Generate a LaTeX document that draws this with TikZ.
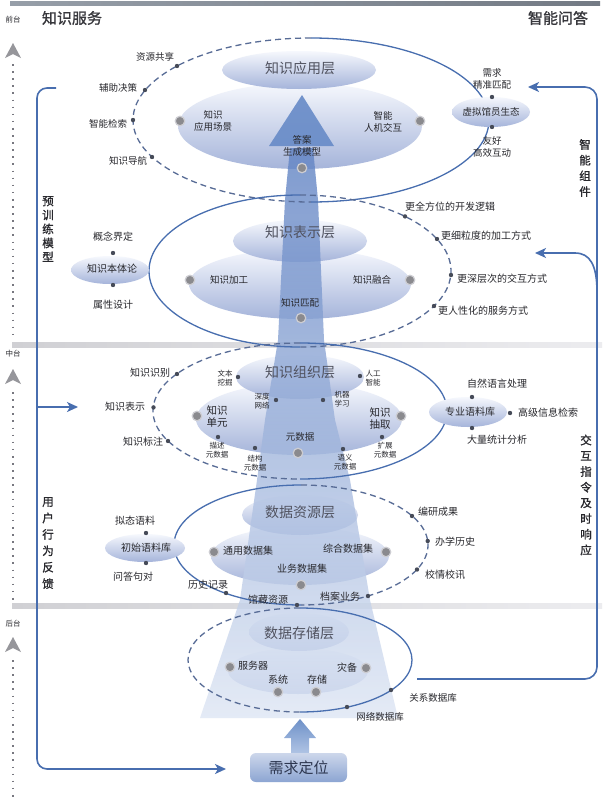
\documentclass[tikz,border=0pt]{standalone}
\usepackage{fontspec}
\setmainfont{Noto Sans CJK SC}
\newfontfamily\cjkb{Noto Sans CJK SC}[FakeBold=1.2]
\usetikzlibrary{arrows.meta,shapes.geometric}
\definecolor{lblue}{RGB}{72,110,175}
\definecolor{dashc}{RGB}{88,108,150}
\definecolor{txt}{RGB}{40,40,45}
\definecolor{ttlc}{RGB}{80,82,95}
\definecolor{dtop}{RGB}{246,248,253}
\definecolor{dbot}{RGB}{165,180,218}
\definecolor{gdotc}{RGB}{138,138,142}
\definecolor{gring}{RGB}{205,205,210}
\definecolor{ddot}{RGB}{70,75,88}
\definecolor{shtop}{RGB}{95,130,195}
\definecolor{shmid}{RGB}{160,182,222}
\definecolor{shbot}{RGB}{222,230,244}
\definecolor{trc}{RGB}{105,140,200}
\definecolor{sepa}{RGB}{208,208,212}
\definecolor{sepb}{RGB}{236,236,239}
\definecolor{dotl}{RGB}{120,120,128}
\definecolor{trig}{RGB}{150,150,155}
\begin{document}
\begin{tikzpicture}[x=1pt,y=-1pt,
  lbl/.style={font=\fontsize{10}{11.5}\selectfont, text=txt, align=center, inner sep=0pt},
  lbls/.style={font=\fontsize{9.5}{11.5}\selectfont, text=txt, align=center, inner sep=0pt},
  tinylbl/.style={font=\fontsize{7.5}{8.5}\selectfont, text=txt, align=center, inner sep=0pt},
  ttlnode/.style={font=\fontsize{14}{16}\selectfont, text=ttlc, inner sep=0pt},
  vlbl/.style={font=\cjkb\fontsize{11.5}{15.7}\selectfont, text=txt, align=center, inner sep=0pt},
  gdot/.style={circle, fill=gdotc, draw=gring, line width=1.2pt, minimum size=9.5pt, inner sep=0pt},
  sdot/.style={circle, fill=ddot, minimum size=4.4pt, inner sep=0pt},
  dashE/.style={draw=dashc, line width=1.3pt, dash pattern=on 6pt off 4pt},
  solE/.style={draw=lblue, line width=1.3pt},
  disc/.style={top color=dtop, bottom color=dbot},
  bline/.style={draw=lblue, line width=1.6pt},
  btip/.style={-{Stealth[length=11pt,width=10pt,inset=3pt]}},
  axdots/.style={dotl, line width=1.5pt, dash pattern=on 1.6pt off 5.5pt}
]
\useasboundingbox (0,0) rectangle (603,798);
\fill[white] (0,0) rectangle (603,798);
% top bar and separators
\shade[left color={rgb,255:red,150;green,158;blue,168}, right color={rgb,255:red,115;green,122;blue,132}] (10,1.5) rectangle (600,5.5);
\shade[left color=sepa, right color=sepb] (12,342) rectangle (602,347);
\shade[left color=sepa, right color=sepb] (12,603) rectangle (602,608);
% left dotted axis
\draw[axdots] (13,64)--(13,338);
\draw[axdots] (13,392)--(13,600);
\draw[axdots] (13,660)--(13,798);
\fill[trig] (13,43) -- (21,58) -- (13,54) -- (5,58) -- cycle;
\fill[trig] (13,369) -- (21,384) -- (13,380) -- (5,384) -- cycle;
\fill[trig] (13,637) -- (21,652) -- (13,648) -- (5,652) -- cycle;
\node[font=\fontsize{7.5}{8}\selectfont, text=txt] (qt) at (13,20) {前台};
\node[font=\fontsize{7.5}{8}\selectfont, text=txt] (zt) at (13,354) {中台};
\node[font=\fontsize{7.5}{8}\selectfont, text=txt] (ht) at (13,624) {后台};
\node[font=\cjkb\fontsize{15}{16}\selectfont, text={rgb,255:red,55;green,55;blue,60}] (zsfw) at (72,18) {知识服务};
\node[font=\cjkb\fontsize{15}{16}\selectfont, text={rgb,255:red,55;green,55;blue,60}] (znwd) at (558,18) {智能问答};
% brackets
\coordinate (la) at (56,88); \coordinate (lb) at (37,88); \coordinate (lc) at (37,769); \coordinate (ld) at (226,769);
\draw[bline, btip, rounded corners=10pt] (la) -- (lb) -- (lc) -- (ld);
\coordinate (le) at (37,407); \coordinate (lf) at (78,407);
\draw[bline, btip] (le) -- (lf);
\coordinate (ra) at (417,679); \coordinate (rb) at (597,679); \coordinate (rc) at (597,87); \coordinate (rd) at (528,87);
\draw[bline, btip, rounded corners=12pt] (ra) -- (rb) -- (rc) -- (rd);
\coordinate (re) at (597,292); \coordinate (rf) at (575,253); \coordinate (rg) at (535,253);
\draw[bline, btip] (re) .. controls (597,265) and (590,253) .. (rf) -- (rg);
\node[vlbl, font=\cjkb\fontsize{11.5}{14}\selectfont] (yxl) at (48,229) {预\\训\\练\\模\\型};
\node[vlbl, font=\cjkb\fontsize{11.5}{16.4}\selectfont] (yhfk) at (48,543) {用\\户\\行\\为\\反\\馈};
\node[vlbl] (znzj) at (585,168) {智\\能\\组\\件};
\node[vlbl] (jhzl) at (586,495) {交\\互\\指\\令\\及\\时\\响\\应};
% discs
\shade[disc] (300,126) ellipse [x radius=122pt, y radius=43pt];
\shade[disc] (299,70) ellipse [x radius=77pt, y radius=19pt];
\shade[disc] (300,284) ellipse [x radius=111pt, y radius=35pt];
\shade[disc] (300,241) ellipse [x radius=67pt, y radius=21pt];
\shade[disc] (299,419) ellipse [x radius=103pt, y radius=36pt];
\shade[disc] (300,377) ellipse [x radius=64pt, y radius=22pt];
\shade[disc] (300,556) ellipse [x radius=89pt, y radius=29pt];
\shade[disc] (300,515) ellipse [x radius=58pt, y radius=20pt];
\shade[disc] (298,671) ellipse [x radius=70pt, y radius=23pt];
\shade[disc] (299,632) ellipse [x radius=50pt, y radius=19pt];
% shaft
\shade[top color=shtop, middle color=shmid, bottom color=shbot, opacity=0.8] (290,148) -- (285,200) -- (278,340) -- (265,420) -- (257,480) -- (240,600) -- (200,718) -- (398,718) -- (370,600) -- (350,480) -- (335,420) -- (324,340) -- (318,200) -- (313,148) -- cycle;
\fill[trc, opacity=0.92] (269,146) -- (302,95) -- (334,146) -- cycle;
% outer ellipses
\draw[dashE] (311,38) arc[start angle=90,end angle=270,x radius=178pt,y radius=82pt];
\draw[solE] (311,38) arc[start angle=90,end angle=-90,x radius=178pt,y radius=82pt];
\draw[solE] (300,195) arc[start angle=90,end angle=270,x radius=151pt,y radius=76pt];
\draw[dashE] (300,195) arc[start angle=90,end angle=-90,x radius=151pt,y radius=76pt];
\draw[dashE] (300,343) arc[start angle=90,end angle=270,x radius=147pt,y radius=68pt];
\draw[solE] (300,343) arc[start angle=90,end angle=-90,x radius=147pt,y radius=68pt];
\draw[solE] (301,485) arc[start angle=90,end angle=270,x radius=127pt,y radius=60pt];
\draw[dashE] (301,485) arc[start angle=90,end angle=-90,x radius=127pt,y radius=60pt];
\draw[dashE] (300,608) arc[start angle=90,end angle=270,x radius=112pt,y radius=52pt];
\draw[solE] (300,608) arc[start angle=90,end angle=-90,x radius=112pt,y radius=52pt];
% side ellipses
\shade[disc] (491,112) ellipse [x radius=39pt, y radius=15pt];
\shade[disc] (110,270) ellipse [x radius=39pt, y radius=14pt];
\shade[disc] (468,412) ellipse [x radius=39pt, y radius=15pt];
\shade[disc] (145,548) ellipse [x radius=40pt, y radius=14pt];
% bottom box and arrow
\shade[top color={rgb,255:red,110;green,145;blue,200}, bottom color={rgb,255:red,175;green,195;blue,228}] (291,753) -- (291,738) -- (284,738) -- (300,719) -- (316,738) -- (309,738) -- (309,753) -- cycle;
\node[rounded corners=6pt, top color={rgb,255:red,205;green,215;blue,235}, bottom color={rgb,255:red,140;green,165;blue,210}, minimum width=97pt, minimum height=29pt, font=\fontsize{15}{16}\selectfont, text={rgb,255:red,45;green,55;blue,80}] (xqdw) at (298.5,767.5) {需求定位};
% ---------- layer 1
\node[ttlnode] (t1) at (300,68) {知识应用层};
\node[lbls] (l1a) at (213,121) {知识\\应用场景};
\node[lbls] (l1b) at (383,122) {智能\\人机交互};
\node[lbls] (l1c) at (302,146) {答案\\生成模型};
\node[gdot] (g1a) at (180,121) {};
\node[gdot] (g1b) at (420,121) {};
\node[gdot] (g1c) at (302,168) {};
\node[sdot] (s1a) at (177,66) {}; \node[lbls] (n1a) at (155,57) {资源共享};
\node[sdot] (s1b) at (145,90) {}; \node[lbls] (n1b) at (118,88) {辅助决策};
\node[sdot] (s1c) at (133,120) {}; \node[lbls] (n1c) at (108,124) {智能检索};
\node[sdot] (s1d) at (152,157) {}; \node[lbls] (n1d) at (128,161) {知识导航};
\node[lbls] (xn) at (491,112) {虚拟馆员生态};
\node[sdot] (s1e) at (492,97) {}; \node[lbls] (n1e) at (492,79) {需求\\精准匹配};
\node[sdot] (s1f) at (492,127) {}; \node[lbls] (n1f) at (492,147) {友好\\高效互动};
% ---------- layer 2
\node[ttlnode] (t2) at (300,232) {知识表示层};
\node[lbls] (l2a) at (229,280) {知识加工};
\node[lbls] (l2b) at (372,280) {知识融合};
\node[lbls] (l2c) at (300,303) {知识匹配};
\node[gdot] (g2a) at (190,280) {};
\node[gdot] (g2b) at (410,280) {};
\node[gdot] (g2c) at (301,318) {};
\node[lbl] (bt) at (112,269) {知识本体论};
\node[sdot] (s2a) at (113,253) {}; \node[lbl] (n2a) at (113,237) {概念界定};
\node[sdot] (s2b) at (113,285) {}; \node[lbl] (n2b) at (113,305) {属性设计};
\node[sdot] (s2c) at (405,216.4) {}; \node[lbl, anchor=west] (n2c) at (405,207) {更全方位的开发逻辑};
\node[sdot] (s2d) at (437,239) {}; \node[lbl, anchor=west] (n2d) at (441,236) {更细粒度的加工方式};
\node[sdot] (s2e) at (451,275) {}; \node[lbl, anchor=west] (n2e) at (457,279) {更深层次的交互方式};
\node[sdot] (s2f) at (434,306) {}; \node[lbl, anchor=west] (n2f) at (438,311) {更人性化的服务方式};
% ---------- layer 3
\node[ttlnode] (t3) at (300,372) {知识组织层};
\node[font=\fontsize{10.5}{12}\selectfont, text=txt, align=center, inner sep=0pt] (l3a) at (217,416) {知识\\单元};
\node[font=\fontsize{10.5}{12}\selectfont, text=txt, align=center, inner sep=0pt] (l3b) at (380,418) {知识\\抽取};
\node[lbls] (l3c) at (300,437) {元数据};
\node[gdot] (g3a) at (197,416) {};
\node[gdot] (g3b) at (401,416) {};
\node[gdot] (g3c) at (298,453) {};
\node[sdot] (s3a) at (238,377) {}; \node[tinylbl] (n3a) at (225,378) {文本\\挖掘};
\node[sdot] (s3b) at (276,400) {}; \node[tinylbl] (n3b) at (262,401) {深度\\网络};
\node[sdot] (s3c) at (323,400) {}; \node[tinylbl] (n3c) at (342,399) {机器\\学习};
\node[sdot] (s3d) at (360,376) {}; \node[tinylbl] (n3d) at (373,378) {人工\\智能};
\node[sdot] (s3e) at (218,437) {}; \node[tinylbl] (n3e) at (217,450) {描述\\元数据};
\node[sdot] (s3f) at (255,448) {}; \node[tinylbl] (n3f) at (255,463) {结构\\元数据};
\node[sdot] (s3g) at (343,449) {}; \node[tinylbl] (n3g) at (345,462) {语义\\元数据};
\node[sdot] (s3h) at (382,437) {}; \node[tinylbl] (n3h) at (385,450) {扩展\\元数据};
\node[sdot] (s3i) at (177,374) {}; \node[lbl] (n3i) at (150,373) {知识识别};
\node[sdot] (s3j) at (153.5,407.4) {}; \node[lbl] (n3j) at (125,407) {知识表示};
\node[sdot] (s3k) at (168,441) {}; \node[lbl] (n3k) at (143,442) {知识标注};
\node[lbl] (zy) at (470,412) {专业语料库};
\node[sdot] (s3l) at (472,397) {}; \node[lbl] (n3l) at (497,384) {自然语言处理};
\node[sdot] (s3m) at (510,413) {}; \node[lbl, anchor=west] (n3m) at (518,413) {高级信息检索};
\node[sdot] (s3n) at (472,428) {}; \node[lbl] (n3n) at (497,440) {大量统计分析};
% ---------- layer 4
\node[ttlnode] (t4) at (300,512) {数据资源层};
\node[lbl] (l4a) at (248,551) {通用数据集};
\node[lbl] (l4b) at (348,549) {综合数据集};
\node[lbl] (l4c) at (302,569) {业务数据集};
\node[gdot] (g4a) at (214,552) {};
\node[gdot] (g4b) at (386,552) {};
\node[gdot] (g4c) at (301,585) {};
\node[lbl] (cs) at (146,548) {初始语料库};
\node[sdot] (s4a) at (146,533) {}; \node[lbl] (n4a) at (135,521) {拟态语料};
\node[sdot] (s4b) at (146,563) {}; \node[lbl] (n4b) at (133,577) {问答句对};
\node[sdot] (s4c) at (226,593) {}; \node[lbl] (n4c) at (208,585) {历史记录};
\node[sdot] (s4d) at (297,605) {}; \node[lbl] (n4d) at (268,600) {馆藏资源};
\node[sdot] (s4e) at (368,596) {}; \node[lbl] (n4e) at (340,597) {档案业务};
\node[sdot] (s4f) at (412,516) {}; \node[lbl, anchor=west] (n4f) at (418,512) {编研成果};
\node[sdot] (s4g) at (427.7,541) {}; \node[lbl, anchor=west] (n4g) at (435,542) {办学历史};
\node[sdot] (s4h) at (417,569.5) {}; \node[lbl, anchor=west] (n4h) at (425,575) {校情校讯};
% ---------- layer 5
\node[ttlnode] (t5) at (299,633) {数据存储层};
\node[lbl] (l5a) at (253,666) {服务器};
\node[lbl] (l5b) at (347,668) {灾备};
\node[lbl] (l5c) at (278,680) {系统};
\node[lbl] (l5d) at (317,680) {存储};
\node[gdot] (g5a) at (230,667) {};
\node[gdot] (g5b) at (366,668) {};
\node[gdot] (g5c) at (278,692) {};
\node[gdot] (g5d) at (316,692) {};
\node[sdot] (s5a) at (391,690) {}; \node[lbls] (n5a) at (433,698) {关系数据库};
\node[sdot] (s5b) at (347,707) {}; \node[lbls] (n5b) at (380,717) {网络数据库};
\end{tikzpicture}
\end{document}
